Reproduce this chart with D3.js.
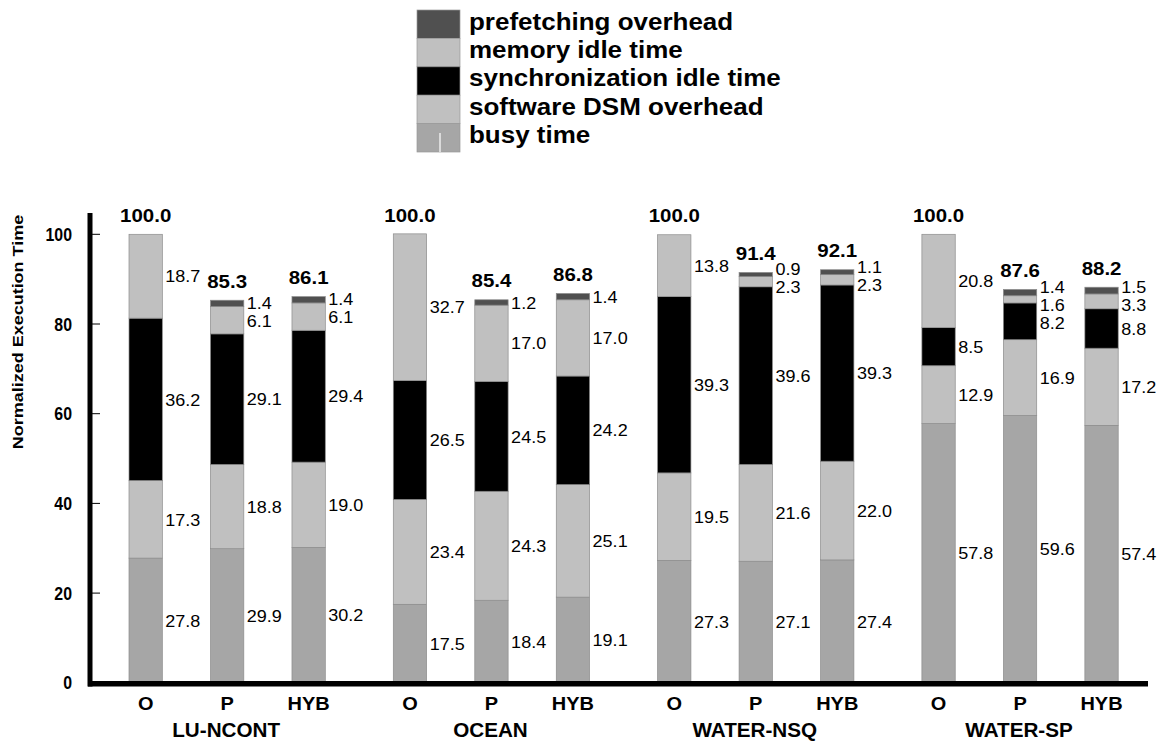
<!DOCTYPE html>
<html>
<head>
<meta charset="utf-8">
<script src="https://cdn.jsdelivr.net/npm/d3@7"></script>
<style>
  body { margin: 0; background: #fff; }
  svg text { font-family: "Liberation Sans", Arial, sans-serif; fill: #000; }
</style>
</head>
<body>
<svg id="chart" width="1162" height="742"></svg>
<script>
const groups = ["LU-NCONT", "OCEAN", "WATER-NSQ", "WATER-SP"];
const variants = ["O", "P", "HYB"];
const components = ["busy time", "software DSM overhead", "synchronization idle time", "memory idle time", "prefetching overhead"];

// one value per bar, in order group x variant
const busy     = [27.8, 29.9, 30.2, 17.5, 18.4, 19.1, 27.3, 27.1, 27.4, 57.8, 59.6, 57.4];
const dsm      = [17.3, 18.8, 19.0, 23.4, 24.3, 25.1, 19.5, 21.6, 22.0, 12.9, 16.9, 17.2];
const syncIdle = [36.2, 29.1, 29.4, 26.5, 24.5, 24.2, 39.3, 39.6, 39.3, 8.5, 8.2, 8.8];
const memIdle  = [18.7, 6.1, 6.1, 32.7, 17.0, 17.0, 13.8, 2.3, 2.3, 20.8, 1.6, 3.3];
const prefetch = [0, 1.4, 1.4, 0, 1.2, 1.4, 0, 0.9, 1.1, 0, 1.4, 1.5];
const totals   = [100.0, 85.3, 86.1, 100.0, 85.4, 86.8, 100.0, 91.4, 92.1, 100.0, 87.6, 88.2];
const yTicks   = [0, 20, 40, 60, 80, 100];

const colors = ["#a6a6a6", "#c0c0c0", "#000000", "#c0c0c0", "#505050"];
const series = [busy, dsm, syncIdle, memIdle, prefetch];

const svg = d3.select("#chart");

const y = d3.scaleLinear().domain([0, 100]).range([682.8, 234.3]);
const x0 = d3.scaleBand().domain(groups).range([129, 129 + 4 * 264.3]);
const x1 = d3.scaleBand().domain(variants).range([0, 196.3]).paddingInner(0.591).paddingOuter(0);

// text with a horizontal stretch, the original fonts run wide
function stretchText(parent, x, yy, str, size, weight, anchor, sx) {
  const g = parent.append("g").attr("transform", `translate(${x},${yy}) scale(${sx},1)`);
  g.append("text")
    .attr("text-anchor", anchor)
    .style("font-size", size + "px")
    .style("font-weight", weight)
    .text(str);
  return g;
}

// bars
const bars = [];
groups.forEach((grp, gi) => {
  variants.forEach((v, vi) => {
    const i = gi * 3 + vi;
    let acc = 0;
    const segs = series.map((s, k) => {
      const seg = { k, v0: acc, v1: acc + s[i], val: s[i] };
      acc += s[i];
      return seg;
    });
    bars.push({ grp, v, i, x: x0(grp) + x1(v), segs });
  });
});

const barG = svg.append("g");
bars.forEach(b => {
  const g = barG.append("g");
  g.selectAll("rect")
    .data(b.segs.filter(s => s.val > 0))
    .join("rect")
    .attr("x", b.x)
    .attr("width", x1.bandwidth())
    .attr("y", s => y(s.v1))
    .attr("height", s => y(s.v0) - y(s.v1))
    .attr("fill", s => colors[s.k])
    .attr("stroke", "#8c8c8c")
    .attr("stroke-width", 0.7);

  // value labels, midpoints pushed apart when they collide
  const labs = b.segs.filter(s => s.val > 0)
    .map(s => ({ text: s.val.toFixed(1), pos: y((s.v0 + s.v1) / 2) }));
  labs.sort((a, c) => a.pos - c.pos);
  const gap = 18;
  for (let it = 0; it < 20; it++) {
    for (let j = 1; j < labs.length; j++) {
      const d = labs[j].pos - labs[j - 1].pos;
      if (d < gap) {
        const push = (gap - d) / 2;
        labs[j - 1].pos -= push;
        labs[j].pos += push;
      }
    }
  }
  labs.forEach(l => {
    stretchText(svg, b.x + x1.bandwidth() + 3, l.pos + 6.2, l.text, 17, "normal", "start", 1.06);
  });

  stretchText(svg, b.x + x1.bandwidth() / 2, y(totals[b.i]) - 12.5, totals[b.i].toFixed(1), 17.5, "bold", "middle", 1.17);
});

// y axis
svg.append("line")
  .attr("x1", 90).attr("x2", 90)
  .attr("y1", 213).attr("y2", 686.5)
  .attr("stroke", "#000").attr("stroke-width", 5);

yTicks.forEach(t => {
  svg.append("line")
    .attr("x1", 92).attr("x2", 100)
    .attr("y1", y(t)).attr("y2", y(t))
    .attr("stroke", "#000").attr("stroke-width", 1);
  stretchText(svg, 72, y(t) + 6.6, String(t), 18.5, "bold", "end", 0.86);
});

// x axis
svg.append("line")
  .attr("x1", 88).attr("x2", 1148)
  .attr("y1", 683.8).attr("y2", 683.8)
  .attr("stroke", "#000").attr("stroke-width", 5.5);

bars.forEach(b => {
  stretchText(svg, b.x + x1.bandwidth() / 2, 710, b.v, 18.5, "bold", "middle", 1.08);
});
groups.forEach(grp => {
  stretchText(svg, x0(grp) + 196.3 / 2 - 1, 737, grp, 19.5, "bold", "middle", 1.06);
});

// y axis title
svg.append("g")
  .attr("transform", "translate(23,332) rotate(-90) scale(1.2,1)")
  .append("text")
  .attr("text-anchor", "middle")
  .style("font-size", "15px")
  .style("font-weight", "bold")
  .text("Normalized Execution Time");

// legend, top entry is the top of the stack
const legend = svg.append("g");
const legendItems = components.slice().reverse();
legendItems.forEach((name, j) => {
  const k = components.indexOf(name);
  const top = 10 + j * 28.4;
  legend.append("rect")
    .attr("x", 417).attr("y", top)
    .attr("width", 43).attr("height", 28.4)
    .attr("fill", colors[k])
    .attr("stroke", "#999").attr("stroke-width", 0.7);
  stretchText(legend, 469, top + 19.5, name, 23, "bold", "start", 1.13);
});
legend.append("line")
  .attr("x1", 440).attr("x2", 440)
  .attr("y1", 133).attr("y2", 152)
  .attr("stroke", "#fff").attr("stroke-width", 1.2);
</script>
</body>
</html>
